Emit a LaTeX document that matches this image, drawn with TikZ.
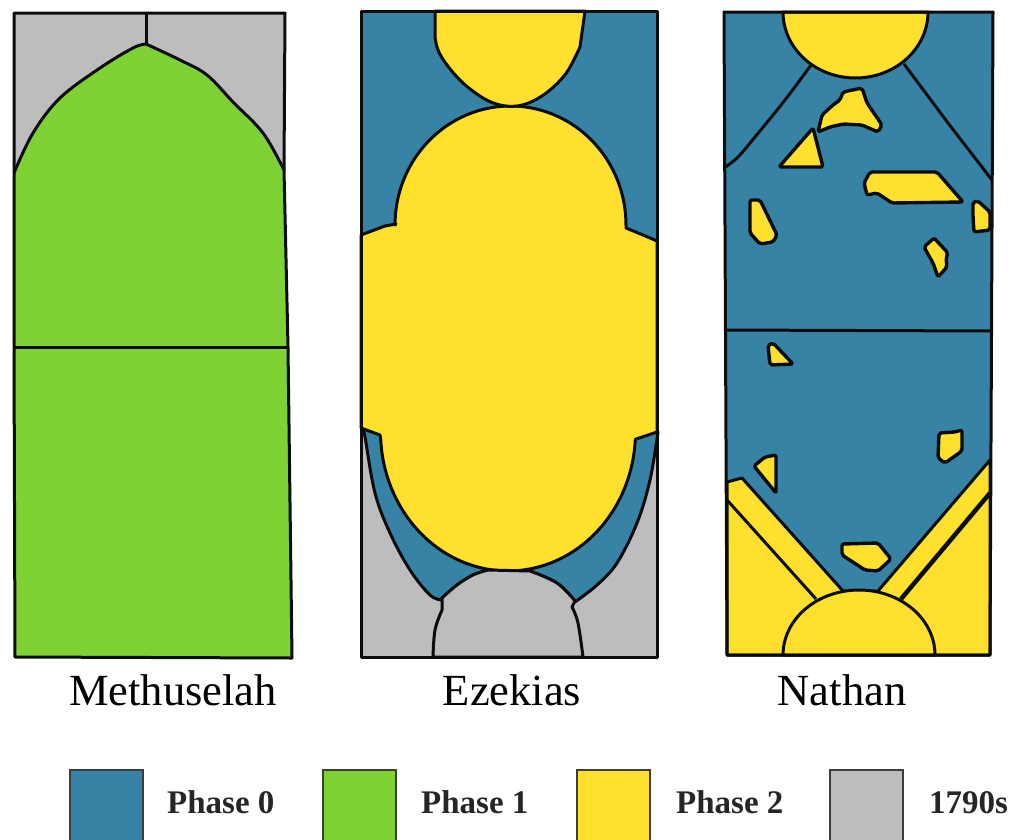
\documentclass[tikz,border=0pt]{standalone}
\usepackage{fontspec}
\setmainfont{Liberation Serif}
\usetikzlibrary{positioning}
\definecolor{plink}{HTML}{0C0C0C}
\definecolor{plblue}{HTML}{3783A5}
\definecolor{plgreen}{HTML}{7ED234}
\definecolor{plyellow}{HTML}{FFE12D}
\definecolor{plgrey}{HTML}{BDBDBD}
\tikzset{
  pl line/.style={draw=plink, line width=3pt, line join=round},
  pl soft/.style={smooth, tension=0.6},
  pl arc/.style={smooth, samples=37, variable=\t},
  pl blob/.style={pl line, fill=plyellow, line width=3.4pt, rounded corners=2pt},
  pl title/.style={font=\fontsize{44.5}{50}\selectfont, text=black, anchor=base, inner sep=0pt},
  pl swatch/.style={draw=plink!80, line width=1.8pt, minimum width=73pt, minimum height=90pt,
    anchor=north west, inner sep=0pt},
  pl key/.style={font=\fontsize{33}{38}\selectfont\bfseries, text=black!85, anchor=base west, inner sep=0pt}
}

\begin{document}
\begin{tikzpicture}[x=1pt, y=-1pt]
  \useasboundingbox (0,0) rectangle (1018,839);
  \clip (0,0) rectangle (1018,839);
  % left panel
  \fill[plgrey] (14,13) -- (285,13) -- (285,172) -- (14,172) -- cycle;
  \fill[plgreen] plot[pl soft] coordinates {(14,173) (33,133) (60,98) (100,68) (133,48) (146,44)} -- plot[pl soft] coordinates {(146,44) (180,60) (207,75) (233,102) (263,133) (284,170)} -- (288,347) -- (292,658) -- (15,657) -- cycle;
  \draw[pl line] (14,13) -- (285,13) -- (284,170) -- (288,347) -- (292,658) -- (15,657) -- (14,347) -- cycle;
  \draw[pl line] plot[pl soft] coordinates {(14,173) (33,133) (60,98) (100,68) (133,48) (146,44)};
  \draw[pl line] plot[pl soft] coordinates {(146,44) (180,60) (207,75) (233,102) (263,133) (284,170)};
  \draw[pl line] (146,13) -- (146,44);
  \draw[pl line] (14,347) -- (288,347);
  % middle panel
  \fill[plgrey] (361,400) rectangle (657,657);
  \fill[plblue] (361,11) rectangle (657,245);
  \draw[pl line, fill=plblue] plot[pl soft] coordinates {(363,428) (365,437) (375,493) (390,533) (410,570) (430,595) (442,600)} -- plot[pl soft] coordinates {(442,598) (457,585) (473,575) (488,570)} -- (530,571) -- plot[pl soft] coordinates {(530,571) (557,583) (575,601)} -- plot[pl soft] coordinates {(575,602) (597,585) (617,563) (637,523) (650,480) (658,432)} -- cycle;
  \draw[pl line, fill=plyellow] (361,235) -- (385,226) -- (396,224) -- plot[pl arc, domain=180:0] ({510.5+115.5*cos(\t)},{225-119*sin(\t)}) -- (626,228) -- (643,235) -- (657,241) -- (657,432) -- plot[pl arc, domain=3:177] ({508+127.5*cos(\t)},{432+139*sin(\t)}) -- (380,435) -- (361,428) -- cycle;
  \draw[pl line, fill=plyellow] (435,11) -- plot[pl soft] coordinates {(435,37) (438,50) (447,65) (463,83) (483,98) (500,105) (517,106) (533,101) (550,90) (567,72) (580,47)} -- (585,11) -- cycle;
  \draw[pl line, fill=plgrey] plot[pl soft] coordinates {(433,657) (435,630) (442,610)} -- (442,598) -- plot[pl soft] coordinates {(442,598) (457,585) (473,575) (488,570)} -- (530,571) -- plot[pl soft] coordinates {(530,571) (557,583) (575,601)} -- (572,607) -- plot[pl soft] coordinates {(572,607) (578,623) (583,657)} -- cycle;
  \draw[pl line] (361,11) rectangle (657,657);
  % right panel
  \fill[plblue] (724,12) -- (993,12) -- (990,655) -- (727,655) -- cycle;
  \draw[pl line, fill=plyellow] (727,482) -- (742,478) -- (843,591) -- (878,591) -- (990,460) -- (990,655) -- (727,655) -- cycle;
  \draw[pl line] (727,500) -- (816,599);
  \draw[pl line, line width=4.5pt] (990,493) -- (901,599);
  \draw[pl line, fill=plyellow] plot[pl arc, domain=180:0] ({859+76*cos(\t)},{655-65*sin(\t)}) -- cycle;
  \draw[pl line, fill=plyellow] plot[pl arc, domain=180:0] ({855.5+72.5*cos(\t)},{12+66*sin(\t)}) -- cycle;
  \draw[pl line] plot[pl soft] coordinates {(811,65) (785,100) (755,137) (738,157) (724,168)};
  \draw[pl line] (904,64) -- (948,123) -- (992,180);
  \draw[pl blob] (818,132) -- (822,115) -- (833,105) -- (840,100) -- (843,92) -- (862,88) -- (867,103) -- (882,125) -- (878,132) -- (862,125) -- (843,124) -- (830,127) -- cycle;
  \draw[pl blob] (813,128) -- (779,167) -- (823,167) -- cycle;
  \draw[pl blob] (870,172) -- (937,172) -- (963,202) -- (892,203) -- (877,193) -- (867,195) -- (864,183) -- cycle;
  \draw[pl blob] (750,200) -- (760,200) -- (777,235) -- (773,242) -- (760,244) -- (750,233) -- cycle;
  \draw[pl blob] (973,202) -- (978,201) -- (990,212) -- (990,230) -- (974,232) -- (973,217) -- cycle;
  \draw[pl blob] (924,247) -- (934,238) -- (948,253) -- (946,258) -- (947,267) -- (938,277) -- (933,263) -- cycle;
  \draw[pl blob] (768,345) -- (773,343) -- (793,364) -- (770,365) -- cycle;
  \draw[pl blob] (939,433) -- (955,432) -- (962,430) -- (962,451) -- (945,463) -- (938,458) -- cycle;
  \draw[pl blob] (754,466) -- (765,457) -- (776,455) -- (776,493) -- cycle;
  \draw[pl blob] (842,544) -- (878,543) -- (891,559) -- (878,571) -- (865,570) -- (842,555) -- cycle;
  \draw[pl line] (725,330) -- (992,331);
  \draw[pl line] (724,12) -- (993,12) -- (990,655) -- (727,655) -- cycle;
  % captions
  \node[pl title] (methuselah) at (173,705) {Methuselah};
  \node[pl title] (ezekias) at (512,705) {Ezekias};
  \node[pl title] (nathan) at (842,705) {Nathan};
  % legend
  \node[pl swatch, fill=plblue] (keyzero) at (69,769) {};
  \node[pl swatch, fill=plgreen] (keyone) at (322,769) {};
  \node[pl swatch, fill=plyellow] (keytwo) at (576,769) {};
  \node[pl swatch, fill=plgrey] (keyold) at (829,769) {};
  \node[pl key] (labzero) at (167,813) {Phase 0};
  \node[pl key] (labone) at (421,813) {Phase 1};
  \node[pl key] (labtwo) at (676,813) {Phase 2};
  \node[pl key] (labold) at (929,813) {1790s};
\end{tikzpicture}
\end{document}
